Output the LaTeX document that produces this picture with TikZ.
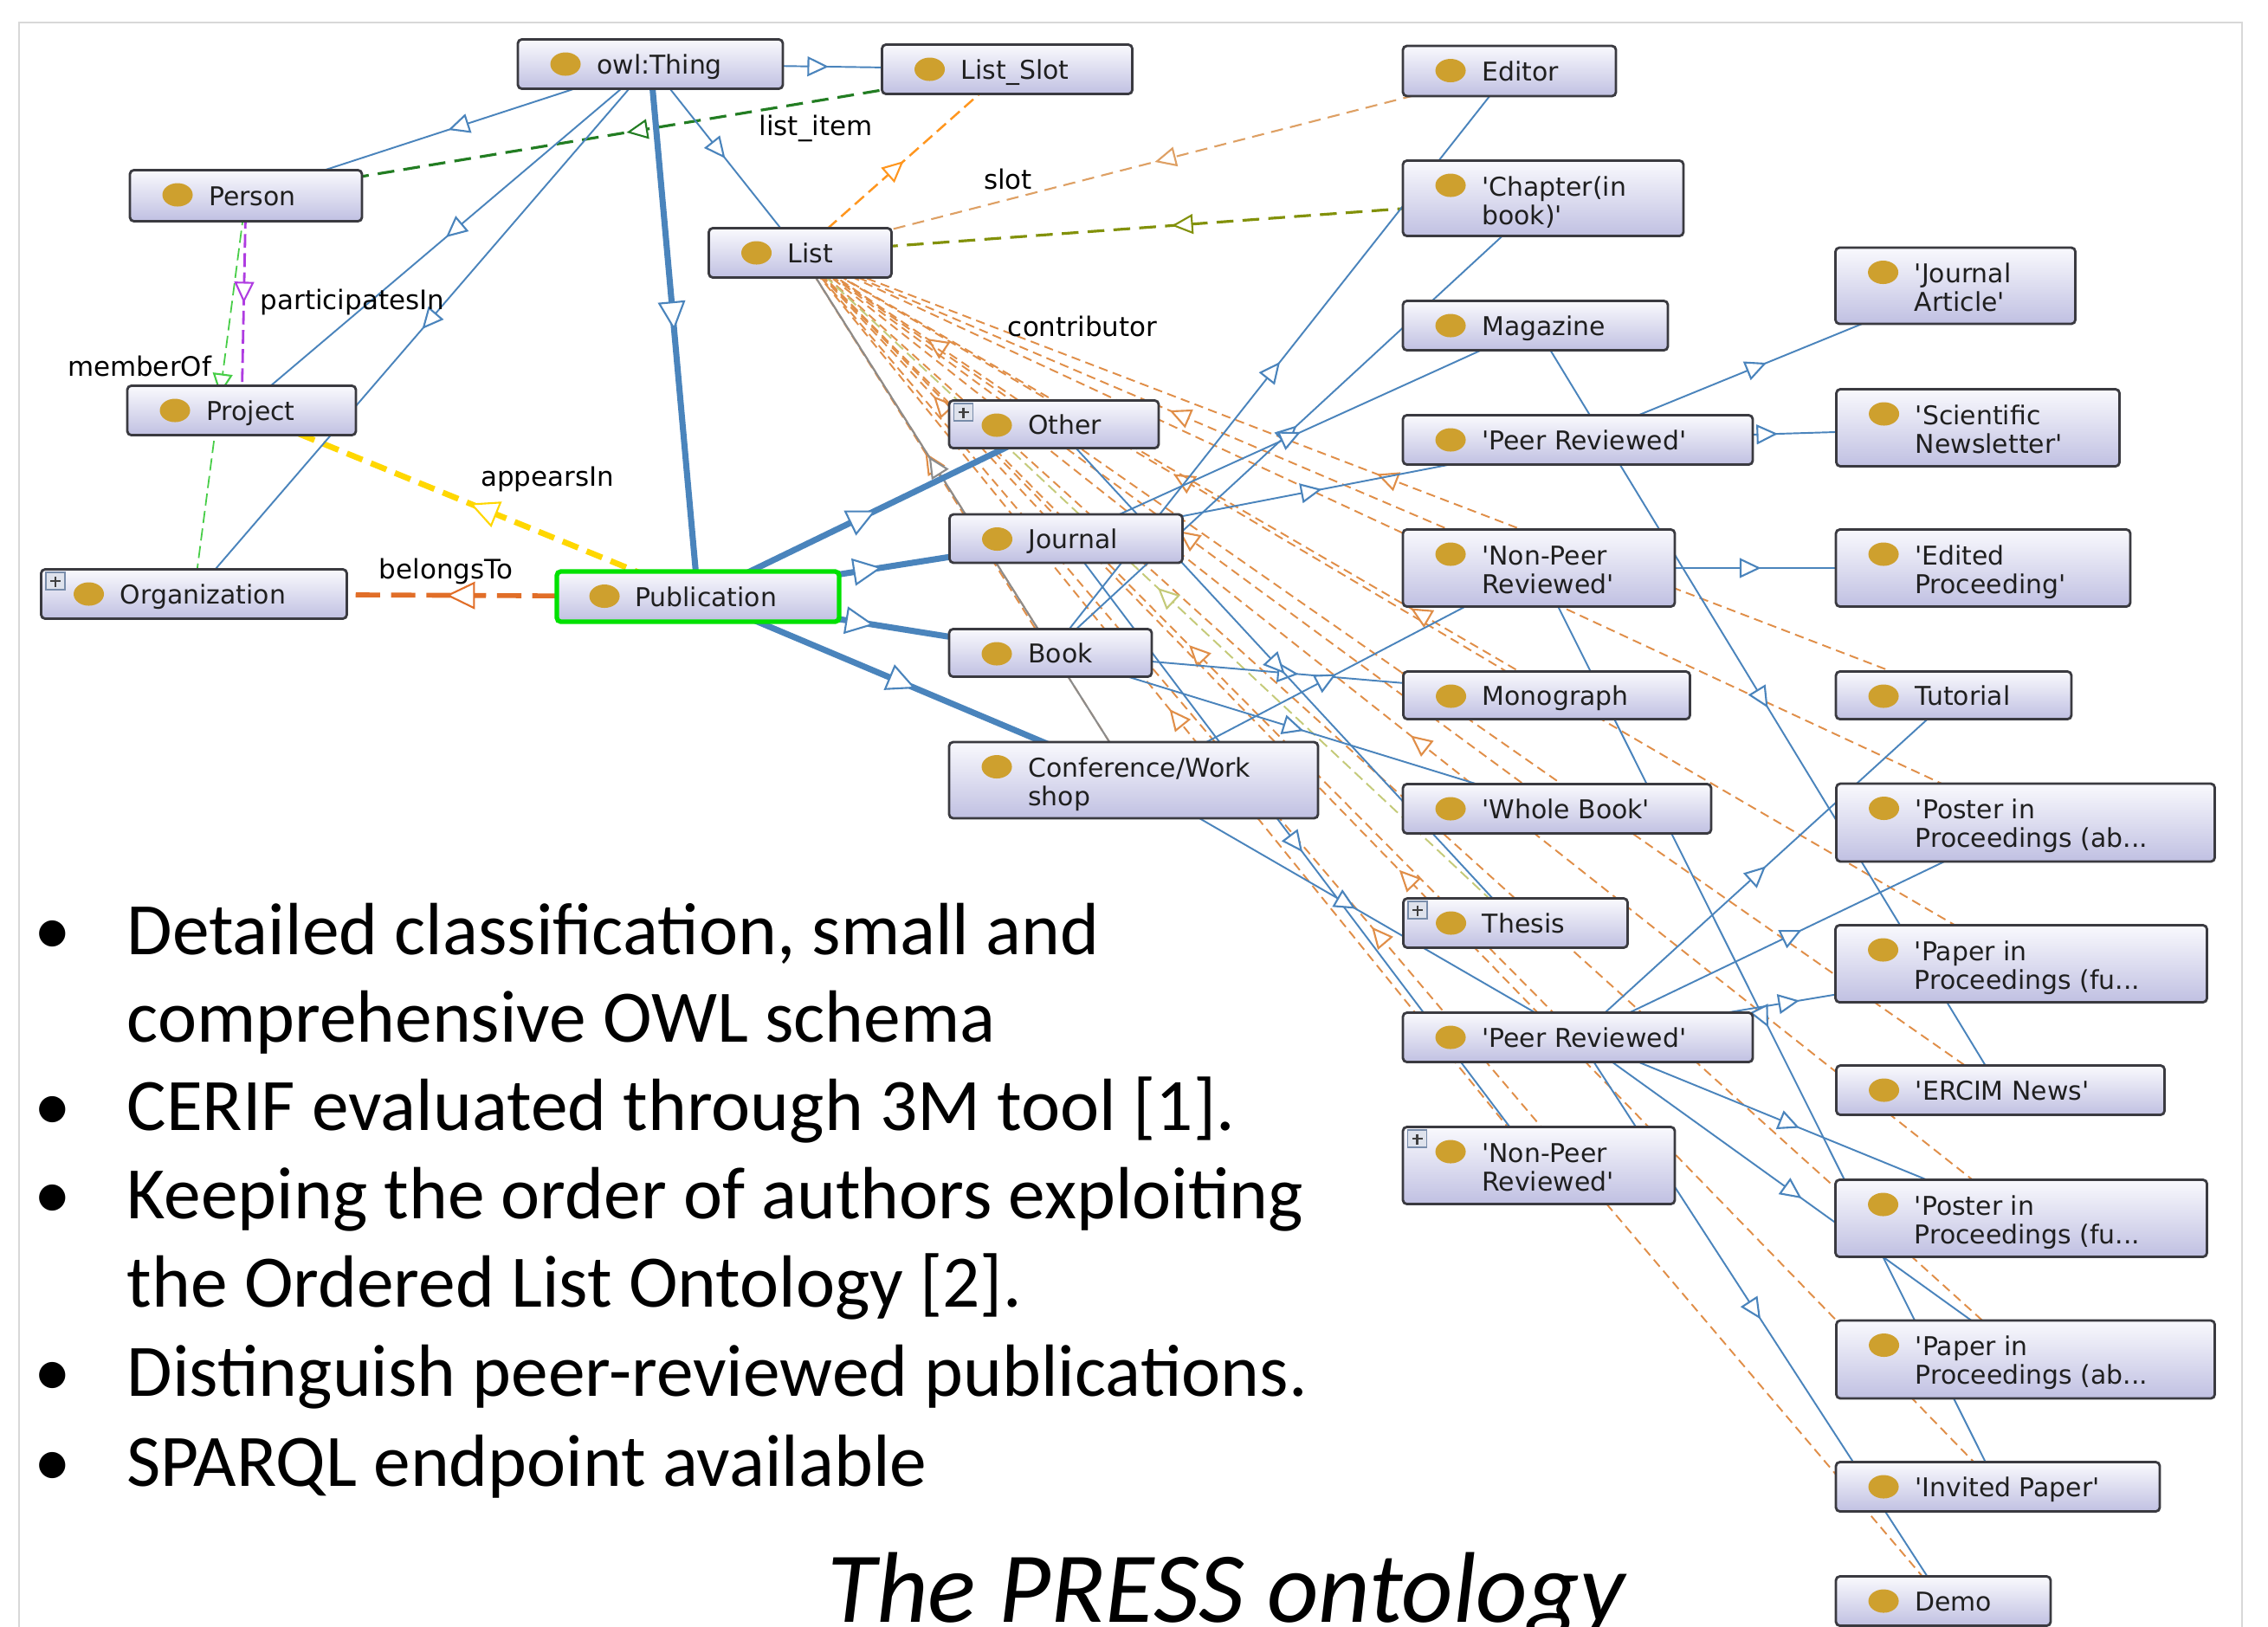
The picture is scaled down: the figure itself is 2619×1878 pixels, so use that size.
\documentclass[tikz,border=0pt]{standalone}
\usepackage{fontspec}
\setmainfont{Carlito}
\newfontfamily\nodefont{DejaVu Sans}
\usetikzlibrary{arrows.meta,decorations.markings,calc}

\definecolor{blueE}{RGB}{74,132,188}
\definecolor{gold}{RGB}{206,160,46}
\definecolor{nodetop}{RGB}{249,249,253}
\definecolor{nodebot}{RGB}{192,192,226}
\definecolor{nodeline}{RGB}{58,58,64}
\definecolor{fanC}{RGB}{224,142,72}
\definecolor{slotC}{RGB}{255,150,30}
\definecolor{tanC}{RGB}{222,160,100}
\definecolor{oliveC}{RGB}{130,145,10}
\definecolor{dgreenC}{RGB}{34,125,34}
\definecolor{limeC}{RGB}{70,205,70}
\definecolor{purpC}{RGB}{175,60,225}
\definecolor{yellowC}{RGB}{255,215,0}
\definecolor{belongC}{RGB}{225,110,40}
\definecolor{khakiC}{RGB}{196,202,120}
\definecolor{grayC}{RGB}{140,140,140}
\definecolor{frameC}{RGB}{216,216,216}
\definecolor{pubgreen}{RGB}{0,225,0}
\definecolor{plusfill}{RGB}{222,226,236}
\definecolor{plusline}{RGB}{120,140,170}

\newcommand\sq{\textquotesingle}

\pgfdeclarelayer{edges}
\pgfsetlayers{edges,main}

\tikzset{
  clsbox/.style={draw=nodeline, line width=0.8pt, rounded corners=1.3pt,
    top color=nodetop, bottom color=nodebot, inner sep=0pt,
    path picture={\fill[gold] ([xshift=0.55cm,yshift=-0.285cm]path picture bounding box.north west)
      ellipse [x radius=0.175cm, y radius=0.135cm];}},
  clstext/.style={inner sep=0pt, font=\nodefont\fontsize{8.5pt}{9.3pt}\selectfont, text=black!88, align=left},
  lbl/.style={inner sep=0pt, font=\nodefont\fontsize{8.8pt}{10pt}\selectfont, text=black},
  arr/.style={postaction={decorate, decoration={markings, mark=at position #1 with
    {\pgfsetlinewidth{0.6pt}\pgfsetdash{}{0pt}\arrow{Triangle[length=7pt,width=6.5pt,fill=white]}}}}},
  arr/.default=0.5,
  arrbig/.style={postaction={decorate, decoration={markings, mark=at position 0.5 with
    {\pgfsetlinewidth{0.6pt}\pgfsetdash{}{0pt}\arrow{Triangle[length=9.5pt,width=9pt,fill=white]}}}}},
  sub/.style={blueE, line width=0.55pt, arr},
  subT/.style={blueE, line width=2pt, arrbig},
  fan/.style={fanC, line width=0.55pt, dash pattern=on 3pt off 1.8pt, arr},
  pslot/.style={slotC, line width=0.7pt, dash pattern=on 4pt off 2pt, arr},
  ptan/.style={tanC, line width=0.6pt, dash pattern=on 4pt off 2.4pt, arr},
  polive/.style={oliveC, line width=0.9pt, dash pattern=on 5.5pt off 3pt, arr},
  pdgreen/.style={dgreenC, line width=0.9pt, dash pattern=on 5.5pt off 3pt, arr},
  plime/.style={limeC, line width=0.5pt, dash pattern=on 4pt off 1.8pt, arr},
  ppurp/.style={purpC, line width=0.8pt, dash pattern=on 4.5pt off 1.8pt, arr},
  pyellow/.style={yellowC, line width=1.9pt, dash pattern=on 5.5pt off 3pt, arrbig},
  pbelong/.style={belongC, line width=1.6pt, dash pattern=on 8pt off 3.6pt, arrbig},
  pkhaki/.style={khakiC, line width=0.55pt, dash pattern=on 3.5pt off 1.8pt, arr},
  pgray/.style={grayC, line width=0.6pt, arr=0.614},
  bul/.style={inner sep=0pt, anchor=base west, font=\fontsize{24.3pt}{29pt}\selectfont},
  bulldot/.style={inner sep=0pt, anchor=base, font=\fontsize{24.3pt}{29pt}\selectfont},
}

% #1 extra style, #2 name, #3 centre, #4 width, #5 height, #6 text
\newcommand\clsone[6][]{%
  \node[clsbox,#1,minimum width=#4*0.01cm,minimum height=#5*0.01cm] (#2) at (#3) {};
  \node[clstext, anchor=base west] (#2-t) at ([xshift=0.92cm,yshift=-0.11cm]#2.west) {#6};}
\newcommand\clstwo[6][]{%
  \node[clsbox,#1,minimum width=#4*0.01cm,minimum height=#5*0.01cm] (#2) at (#3) {};
  \node[clstext, anchor=north west] (#2-t) at ([xshift=0.92cm,yshift=-0.17cm]#2.north west) {\rule{0pt}{7pt}#6};}
\newcommand\plusicon[1]{%
  \draw[draw=plusline, fill=plusfill, line width=0.4pt] ([xshift=0.07cm,yshift=-0.05cm]#1.north west) rectangle ++(22,20);
  \draw[black!75, line width=0.7pt] ([xshift=0.18cm,yshift=-0.095cm]#1.north west) -- ++(0,12)
        ([xshift=0.12cm,yshift=-0.15cm]#1.north west) -- ++(12,0);}

\begin{document}
\begin{tikzpicture}[x=0.01cm, y=-0.01cm]
\useasboundingbox (0,0) rectangle (2619,1878);

% ---------- classes ----------
\clsone{thing}{751,74}{306}{57}{owl:Thing}
\clsone{listslot}{1163,80}{289}{57}{List\_Slot}
\clsone{person}{284,226}{268}{59}{Person}
\clsone{list}{924,292}{211}{57}{List}
\clsone{project}{279,474}{264}{57}{Project}
\clsone{org}{224,686}{353}{57}{Organization}
\clsone[draw=pubgreen,line width=1.5pt]{pub}{806,689}{326}{58}{Publication}
\clsone{other}{1217,490}{242}{55}{Other}
\clsone{journal}{1231,622}{269}{56}{Journal}
\clsone{book}{1213,754}{234}{55}{Book}
\clstwo{conf}{1309,901}{426}{88}{Conference/Work\\shop}
\clsone{editor}{1743,82}{246}{58}{Editor}
\clstwo{chapter}{1782,229}{324}{87}{\sq{}Chapter(in\\book)\sq}
\clsone{magazine}{1773,376}{306}{57}{Magazine}
\clsone{peerA}{1822,508}{404}{57}{\sq{}Peer Reviewed\sq}
\clstwo{nonpeerA}{1777,656}{314}{89}{\sq{}Non-Peer\\Reviewed\sq}
\clsone{monograph}{1786,803}{331}{55}{Monograph}
\clsone{wholebook}{1798,934}{356}{57}{\sq{}Whole Book\sq}
\clsone{thesis}{1750,1066}{259}{57}{Thesis}
\clsone{peerB}{1822,1198}{404}{57}{\sq{}Peer Reviewed\sq}
\clstwo{nonpeerB}{1777,1346}{314}{89}{\sq{}Non-Peer\\Reviewed\sq}
\clstwo{jarticle}{2258,330}{277}{88}{\sq{}Journal\\Article\sq}
\clstwo{scinews}{2284,494}{327}{89}{\sq{}Scientific\\Newsletter\sq}
\clstwo{edproc}{2290,656}{340}{89}{\sq{}Edited\\Proceeding\sq}
\clsone{tutorial}{2256,803}{272}{55}{Tutorial}
\clstwo{posterab}{2339,950}{437}{90}{\sq{}Poster in\\Proceedings (ab...}
\clstwo{paperfu}{2334,1113}{429}{89}{\sq{}Paper in\\Proceedings (fu...}
\clsone{ercim}{2310,1259}{379}{57}{\sq{}ERCIM News\sq}
\clstwo{posterfu}{2334,1407}{429}{89}{\sq{}Poster in\\Proceedings (fu...}
\clstwo{paperab}{2339,1570}{437}{90}{\sq{}Paper in\\Proceedings (ab...}
\clsone{invited}{2307,1717}{374}{57}{\sq{}Invited Paper\sq}
\clsone{demo}{2244,1849}{248}{57}{Demo}

\plusicon{org}
\plusicon{other}
\plusicon{thesis}
\plusicon{nonpeerB}

% ---------- edge labels ----------
\node[lbl] (lab-listitem) at (942,148) {list\_item};
\node[lbl] (lab-slot) at (1164,207) {slot};
\node[lbl] (lab-contrib) at (1250,377) {contributor};
\node[lbl, anchor=west] (lab-part) at (300,349) {participatesIn};
\node[lbl] (lab-member) at (161,423) {memberOf};
\node[lbl] (lab-appears) at (632,553) {appearsIn};
\node[lbl] (lab-belongs) at (515,660) {belongsTo};

% ---------- bullet text ----------
\node[bulldot] (d1) at (61,1102) {\textbullet};
\node[bul] (t1) at (146,1102) {Detailed classification, small and};
\node[bul] (t2) at (146,1203) {comprehensive OWL schema};
\node[bulldot] (d2) at (61,1305) {\textbullet};
\node[bul] (t3) at (146,1305) {CERIF evaluated through 3M tool [1].};
\node[bulldot] (d3) at (61,1407) {\textbullet};
\node[bul] (t4) at (146,1407) {Keeping the order of authors exploiting};
\node[bul] (t5) at (146,1509) {the Ordered List Ontology [2].};
\node[bulldot] (d4) at (61,1612) {\textbullet};
\node[bul] (t6) at (146,1612) {Distinguish peer-reviewed publications.};
\node[bulldot] (d5) at (61,1716) {\textbullet};
\node[bul] (t7) at (146,1716) {SPARQL endpoint available};
\node[inner sep=0pt, anchor=base west, font=\itshape\fontsize{33pt}{40pt}\selectfont] (title) at (955,1873) {The PRESS ontology};

% ---------- connectors (behind the classes) ----------
\begin{pgfonlayer}{edges}
\fill[white] (0,0) rectangle (2619,1878);
\draw[frameC, line width=0.6pt] (22,26) rectangle (2589,1920);

% contributor fan from List
\foreach \n in {other,journal,book,conf,nonpeerA,monograph,wholebook,peerB,nonpeerB,tutorial,posterab,paperfu,ercim,posterfu,paperab,invited,demo}
  \draw[fan] (\n.center) -- (list.center);
\draw[pkhaki] (thesis.center) -- (list.center);
\draw[pgray] (conf.center) -- (list.center);
\draw[ptan] (editor.center) -- (list.center);
\draw[polive] (chapter.center) -- (list.center);
\draw[pslot] (list.center) -- (listslot.center);
\draw[pdgreen] (listslot.center) -- (person.center);
\draw[plime] (person.center) -- (org.center);
\draw[ppurp] (person.center) -- (project.center);
\draw[pyellow] (pub.center) -- (project.center);
\draw[pbelong] (pub.center) -- (org.center);

% subclass links
\draw[sub] (thing.center) -- (person.center);
\draw[sub] (thing.center) -- (project.center);
\draw[sub] (thing.center) -- (org.center);
\draw[sub] (thing.center) -- (list.center);
\draw[sub] (thing.center) -- (listslot.center);
\draw[subT] (thing.center) -- (pub.center);
\draw[subT] (pub.center) -- (other.center);
\draw[subT] (pub.center) -- (journal.center);
\draw[subT] (pub.center) -- (book.center);
\draw[subT] (pub.center) -- (conf.center);
\draw[sub] (book.center) -- (editor.center);
\draw[sub] (book.center) -- (chapter.center);
\draw[sub] (book.center) -- (monograph.center);
\draw[sub] (book.center) -- (wholebook.center);
\draw[sub] (journal.center) -- (magazine.center);
\draw[sub] (journal.center) -- (peerA.center);
\draw[sub] (journal.center) -- (nonpeerB.center);
\draw[sub] (conf.center) -- (nonpeerA.center);
\draw[sub] (conf.center) -- (peerB.center);
\draw[sub] (other.center) -- (thesis.center);
\draw[sub] (peerA.center) -- (jarticle.center);
\draw[sub] (peerA.center) -- (scinews.center);
\draw[sub] (nonpeerA.center) -- (edproc.center);
\draw[sub] (nonpeerA.center) -- (invited.center);
\draw[sub] (magazine.center) -- (ercim.center);
\draw[sub] (peerB.center) -- (tutorial.center);
\draw[sub] (peerB.center) -- (posterab.center);
\draw[sub] (peerB.center) -- (paperfu.center);
\draw[sub] (peerB.center) -- (posterfu.center);
\draw[sub] (peerB.center) -- (paperab.center);
\draw[sub] (peerB.center) -- (demo.center);
\end{pgfonlayer}
\end{tikzpicture}
\end{document}
